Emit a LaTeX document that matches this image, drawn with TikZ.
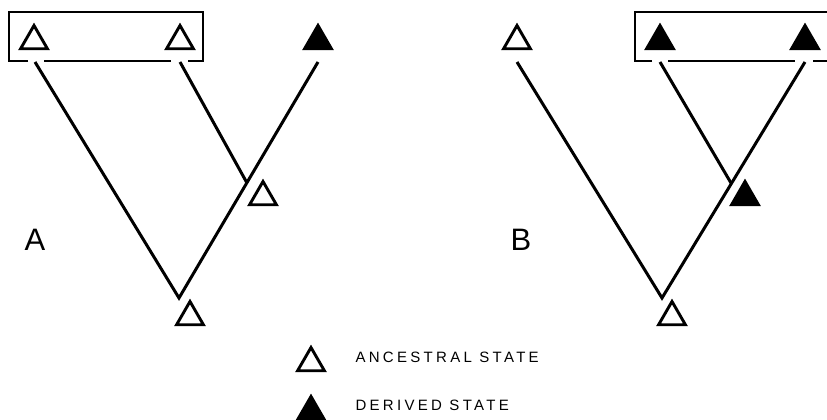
\documentclass[tikz,border=0pt]{standalone}
\usepackage{fontspec}
\setmainfont{Liberation Sans}
\newfontfamily\legendfont[LetterSpace=22]{Liberation Sans}
\usetikzlibrary{shapes.geometric}
\begin{document}
\begin{tikzpicture}[x=1pt,y=-1pt,
  tri/.style={regular polygon, regular polygon sides=3, minimum size=31pt, inner sep=0pt, draw=black, line width=2.9pt, line join=miter},
  anc/.style={tri, fill=white},
  der/.style={tri, fill=black},
  branch/.style={line width=3pt},
  frame/.style={line width=1.7pt},
  panel/.style={font=\fontsize{31}{31}\selectfont},
  legend/.style={font=\legendfont\fontsize{15}{15}\selectfont, anchor=west}]
\useasboundingbox (0,0) rectangle (827,420);
% ---------- Panel A ----------
\node[anc] (tA1) at (34,41) {};
\node[anc] (tA2) at (180,41) {};
\node[der] (tA3) at (318,41) {};
\coordinate (sA1) at (35,62);
\coordinate (sA2) at (180,62);
\coordinate (sA3) at (318,62);
\coordinate (jA) at (179,298);
\coordinate (iA) at (247,183);
\node[anc] (nA) at (263,197) {};
\node[anc] (rA) at (190,317) {};
\draw[frame] (28,61) -- (9,61) -- (9,12) -- (203,12) -- (203,61) -- (188,61);
\draw[frame] (44,61) -- (171,61);
\draw[branch] (sA1) -- (jA) -- (sA3);
\draw[branch] (sA2) -- (iA);
\node[panel] (lA) at (35,240) {A};
% ---------- Panel B ----------
\node[anc] (tB1) at (517,41) {};
\node[der] (tB2) at (660,41) {};
\node[der] (tB3) at (805,41) {};
\coordinate (sB1) at (517,62);
\coordinate (sB2) at (660,62);
\coordinate (sB3) at (805,62);
\coordinate (jB) at (662,298);
\coordinate (iB) at (731,183);
\node[der] (nB) at (745,197) {};
\node[anc] (rB) at (672,317) {};
\draw[frame] (652,61) -- (635,61) -- (635,12) -- (830,12);
\draw[frame] (668,61) -- (795,61);
\draw[frame] (813,61) -- (830,61);
\draw[branch] (sB1) -- (jB) -- (sB3);
\draw[branch] (sB2) -- (iB);
\node[panel] (lB) at (521,240) {B};
% ---------- Legend ----------
\node[anc] (kA) at (311,363) {};
\node[der] (kD) at (311,412) {};
\node[legend] (tAnc) at (352,357) {ANCESTRAL STATE};
\node[legend] (tDer) at (352,405) {DERIVED STATE};
\end{tikzpicture}
\end{document}
